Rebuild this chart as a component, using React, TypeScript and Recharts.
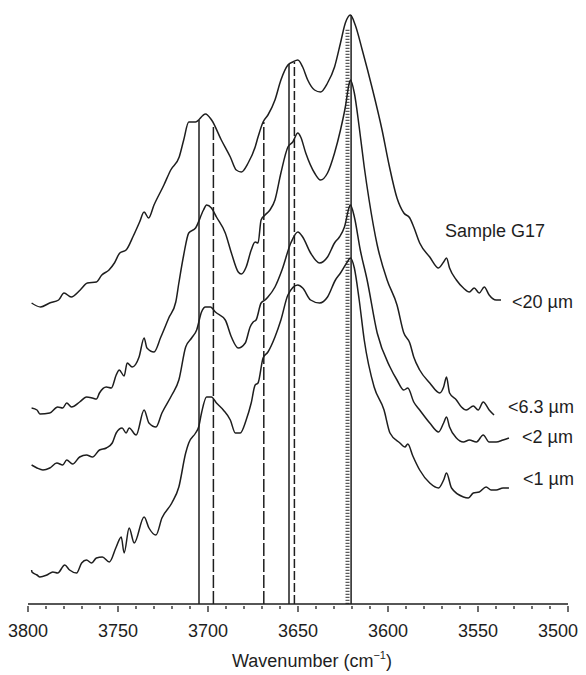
import React from "react";
import { LineChart, Line, XAxis, YAxis } from "recharts";

// Spectra (wavenumber cm^-1, offset absorbance a.u.)
const spectrum20: [number, number][] = [
  [3798, 3.01], [3793, 2.97], [3788, 3.01], [3783, 3.04], [3780, 3.11], [3776, 3.07], [3771, 3.14],
  [3767, 3.21], [3762, 3.22], [3759, 3.29], [3755, 3.34], [3752, 3.41], [3749, 3.51], [3745.5, 3.54],
  [3741.5, 3.68], [3738, 3.82], [3735.5, 3.92], [3733, 3.86], [3730, 3.99], [3724.5, 4.19], [3720.7, 4.34],
  [3716, 4.47], [3713.5, 4.64], [3710.7, 4.82], [3707, 4.82], [3701.4, 4.9], [3698, 4.84], [3692.6, 4.64],
  [3687.6, 4.47], [3684.3, 4.34], [3681.5, 4.32], [3677.7, 4.41], [3673.8, 4.57], [3672.2, 4.67],
  [3669.4, 4.82], [3666.7, 4.89], [3662.8, 5.04], [3659.5, 5.24], [3655.6, 5.39], [3652.9, 5.42],
  [3650.1, 5.44], [3647.4, 5.37], [3644.6, 5.24], [3640.8, 5.14], [3637.5, 5.12], [3633.6, 5.21],
  [3629.7, 5.37], [3626.4, 5.61], [3623.7, 5.81], [3620.9, 5.89], [3618.2, 5.79], [3614.3, 5.54],
  [3608.8, 5.16], [3603.3, 4.74], [3599.4, 4.39], [3595, 4.06], [3591.2, 3.91], [3587.9, 3.86],
  [3585.7, 3.77], [3582.4, 3.61], [3576.8, 3.47], [3571.9, 3.36], [3569.1, 3.42], [3567.5, 3.46],
  [3565.8, 3.36], [3562, 3.24], [3558.1, 3.16], [3554.8, 3.12], [3552.1, 3.16], [3549.3, 3.11],
  [3546.5, 3.17], [3543.8, 3.09], [3539.9, 3.04], [3537.2, 3.04],
];

const spectrum6_3: [number, number][] = [
  [3798, 1.96], [3795, 1.94], [3793.4, 1.9], [3787.9, 1.91], [3783.5, 1.97], [3780.7, 1.96], [3778.5, 2.01],
  [3775.8, 1.97], [3771.3, 2.02], [3767.5, 2.07], [3764.2, 2.06], [3762, 2.05], [3760.3, 2.11],
  [3756.5, 2.17], [3753.7, 2.16], [3751, 2.29], [3749.3, 2.34], [3746.6, 2.28], [3744.9, 2.41],
  [3742.1, 2.37], [3738.3, 2.47], [3735.5, 2.66], [3733.9, 2.56], [3730, 2.52], [3726.2, 2.67],
  [3721.8, 2.86], [3717.9, 3.02], [3716.2, 3.21], [3713.5, 3.49], [3710.7, 3.71], [3706.9, 3.76],
  [3702.5, 3.94], [3700.8, 3.99], [3698.1, 3.96], [3695.3, 3.87], [3690.4, 3.71], [3687, 3.51],
  [3683.2, 3.32], [3681.5, 3.3], [3678.8, 3.37], [3676, 3.54], [3673.8, 3.62], [3672.2, 3.61],
  [3670.5, 3.84], [3668.3, 3.89], [3665.6, 3.94], [3662.8, 4.04], [3659.5, 4.31], [3655.6, 4.57],
  [3652.9, 4.62], [3650.1, 4.71], [3648.5, 4.67], [3645.7, 4.51], [3640.8, 4.31], [3637.5, 4.24],
  [3633.6, 4.31], [3629.7, 4.51], [3626.4, 4.74], [3623.7, 4.97], [3621.5, 5.21], [3620.9, 5.24],
  [3618.7, 5.11], [3616, 4.77], [3613.2, 4.37], [3610.5, 4.04], [3606, 3.59], [3600.5, 3.24],
  [3595, 2.99], [3591.2, 2.71], [3587.9, 2.61], [3585.7, 2.47], [3582.4, 2.34], [3576.8, 2.21],
  [3571.3, 2.11], [3569.1, 2.17], [3567.5, 2.27], [3565.8, 2.11], [3562, 2.04], [3559.2, 1.97],
  [3556.5, 1.94], [3552.6, 1.98], [3549.9, 1.94], [3547.1, 2.02], [3543.8, 1.94], [3541.1, 1.89],
];

const spectrum2: [number, number][] = [
  [3798, 1.39], [3795, 1.36], [3791.7, 1.34], [3787.9, 1.36], [3784, 1.41], [3780.7, 1.39], [3778.5, 1.44],
  [3775.2, 1.4], [3771.3, 1.47], [3767.5, 1.49], [3764.2, 1.47], [3760.3, 1.54], [3756.5, 1.56],
  [3753.2, 1.61], [3751, 1.71], [3747.7, 1.76], [3745.5, 1.71], [3743.8, 1.76], [3739.9, 1.69],
  [3735.5, 1.94], [3732.8, 1.81], [3728.9, 1.77], [3725.6, 1.91], [3720.1, 2.09], [3716.2, 2.24],
  [3712.4, 2.57], [3709.1, 2.66], [3706.3, 2.74], [3703.6, 2.92], [3701.4, 2.97], [3698.6, 2.97],
  [3695.9, 2.92], [3690.4, 2.84], [3687, 2.67], [3683.2, 2.56], [3679.3, 2.61], [3676.6, 2.77],
  [3674.9, 2.82], [3673.3, 2.84], [3670.5, 3.01], [3668.3, 3.04], [3666.7, 3.07], [3662.8, 3.17],
  [3658.9, 3.34], [3654, 3.61], [3650.1, 3.72], [3647.4, 3.67], [3643, 3.51], [3638, 3.41],
  [3633.6, 3.47], [3629.7, 3.61], [3627, 3.67], [3624.2, 3.77], [3621.5, 3.97], [3620.9, 3.99],
  [3618.7, 3.87], [3615.4, 3.54], [3611.6, 3.24], [3606, 2.71], [3598.9, 2.37], [3595, 2.24],
  [3591.2, 2.14], [3589, 2.16], [3585.7, 2.02], [3582.4, 1.94], [3576.8, 1.81], [3571.9, 1.72],
  [3569.1, 1.81], [3567.5, 1.87], [3565.8, 1.77], [3562, 1.66], [3558.1, 1.62], [3554.8, 1.64],
  [3550.9, 1.62], [3547.1, 1.69], [3543.8, 1.62], [3539.9, 1.62], [3536.1, 1.64], [3532.8, 1.66],
];

const spectrum1: [number, number][] = [
  [3798, 0.34], [3797.8, 0.32], [3795, 0.29], [3793.4, 0.27], [3789.5, 0.29], [3786.2, 0.32], [3783.5, 0.31],
  [3779.6, 0.39], [3776.9, 0.34], [3773, 0.31], [3770.2, 0.41], [3767.5, 0.44], [3764.7, 0.41],
  [3762, 0.46], [3758.7, 0.47], [3754.8, 0.42], [3751, 0.57], [3748.2, 0.67], [3746.6, 0.51],
  [3743.8, 0.76], [3741, 0.61], [3735.5, 0.87], [3732.8, 0.76], [3728.9, 0.69], [3725.6, 0.86],
  [3720.1, 1.01], [3716.2, 1.17], [3712.4, 1.51], [3710.7, 1.61], [3706.9, 1.71], [3705.2, 1.77],
  [3703.6, 1.91], [3700.8, 2.07], [3698.1, 2.07], [3695.3, 2.01], [3691.5, 1.94], [3687.6, 1.84],
  [3684.8, 1.71], [3682.1, 1.71], [3678.8, 1.84], [3676, 2.01], [3673.8, 2.19], [3672.2, 2.21],
  [3669.4, 2.46], [3666.7, 2.52], [3662.8, 2.67], [3659.5, 2.84], [3655.6, 3.09], [3650.1, 3.19],
  [3647.4, 3.16], [3643, 3.04], [3638, 3.01], [3633.6, 3.07], [3629.2, 3.24], [3626.4, 3.31],
  [3622.6, 3.42], [3620.9, 3.46], [3618.7, 3.36], [3616, 3.04], [3613.2, 2.64], [3607.7, 2.17],
  [3602.2, 1.94], [3598.9, 1.71], [3593.4, 1.61], [3590.6, 1.57], [3589, 1.6], [3586.2, 1.48],
  [3582.4, 1.34], [3576.8, 1.21], [3571.9, 1.16], [3569.1, 1.24], [3567.5, 1.31], [3564.7, 1.16],
  [3558.1, 1.07], [3555.4, 1.06], [3552.6, 1.11], [3549.3, 1.12], [3545.5, 1.17], [3542.7, 1.14],
  [3539.9, 1.14], [3536.1, 1.16], [3532.8, 1.16],
];

// Band marker lines: position, top value, style
const markerPositions = [3705, 3697, 3669, 3655, 3652, 3622.5, 3620.5];
const markerTops = [4.84, 4.8, 4.82, 5.4, 5.42, 5.76, 5.89];
const markerStyles = ["solid", "dashed", "dashed", "solid", "dashed2", "dotted", "solid"];

const xTicks: number[] = [];
for (let t = 3800; t >= 3500; t -= 10) xTicks.push(t);

const sampleLabel = "Sample G17";
const seriesLabels = ["<20 µm", "<6.3 µm", "<2 µm", "<1 µm"];

const toRows = (arr: [number, number][]) => arr.map(([w, v]) => ({ w, v }));

const FONT = "'Liberation Sans', Arial, Helvetica, sans-serif";
const INK = "#1e1e1e";

const Tick = (props: any) => {
  const { x, y, payload } = props;
  const major = payload.value % 50 === 0;
  const last = payload.value === 3500;
  return (
    <g>
      <line x1={x} x2={x} y1={y} y2={y + (major ? 6 : 3)} stroke={INK} strokeWidth={1.3} />
      {major && (
        <text
          x={last ? x + 10 : x}
          y={y + 31}
          textAnchor={last ? "end" : "middle"}
          fontSize={18}
          fill={INK}
          fontFamily={FONT}
        >
          {payload.value}
        </text>
      )}
    </g>
  );
};

const dashFor = (s: string) => {
  if (s === "dashed") return "13 3";
  if (s === "dashed2") return "9 3";
  if (s === "dotted") return "1.2 1.8";
  return undefined;
};

const labelPos = [
  { left: 504, top: 284 },
  { left: 500, top: 389 },
  { left: 514, top: 419 },
  { left: 515, top: 461 },
];

export default function App() {
  const spectra = [spectrum20, spectrum6_3, spectrum2, spectrum1];
  return (
    <div style={{ position: "relative", width: 578, height: 666, fontFamily: FONT, color: INK }}>
      <LineChart width={578} height={660} margin={{ top: 0, right: 18, left: 20, bottom: 4 }}>
        <XAxis
          dataKey="w"
          type="number"
          domain={[3500, 3800]}
          reversed
          ticks={xTicks}
          interval={0}
          tickSize={0}
          tickLine={false}
          tick={<Tick />}
          height={60}
          allowDataOverflow
          axisLine={{ stroke: INK, strokeWidth: 1.3 }}
        />
        <YAxis hide type="number" domain={[0, 5.96]} allowDataOverflow />
        {markerPositions.map((p, i) => (
          <Line
            key={"m" + i}
            data={[{ w: p, v: 0 }, { w: p, v: markerTops[i] }]}
            dataKey="v"
            type="linear"
            stroke={markerStyles[i] === "dotted" ? "#5a5a5a" : INK}
            strokeWidth={markerStyles[i] === "dotted" ? 4 : 1.5}
            strokeDasharray={dashFor(markerStyles[i])}
            dot={false}
            activeDot={false}
            isAnimationActive={false}
          />
        ))}
        {spectra.map((s, i) => (
          <Line
            key={"s" + i}
            data={toRows(s)}
            dataKey="v"
            type="monotone"
            stroke={INK}
            strokeWidth={1.5}
            dot={false}
            activeDot={false}
            isAnimationActive={false}
          />
        ))}
      </LineChart>
      <div style={{ position: "absolute", left: 437, top: 213, fontSize: 18, lineHeight: "20px", whiteSpace: "nowrap" }}>
        {sampleLabel}
      </div>
      {seriesLabels.map((t, i) => (
        <div
          key={t}
          style={{ position: "absolute", left: labelPos[i].left, top: labelPos[i].top, fontSize: 18, lineHeight: "20px", whiteSpace: "nowrap" }}
        >
          {t}
        </div>
      ))}
      <div style={{ position: "absolute", left: 204, width: 200, top: 643, fontSize: 18, lineHeight: "20px", textAlign: "center", whiteSpace: "nowrap" }}>
        Wavenumber (cm<span style={{ fontSize: 11, position: "relative", top: -8 }}>−1</span>)
      </div>
    </div>
  );
}
